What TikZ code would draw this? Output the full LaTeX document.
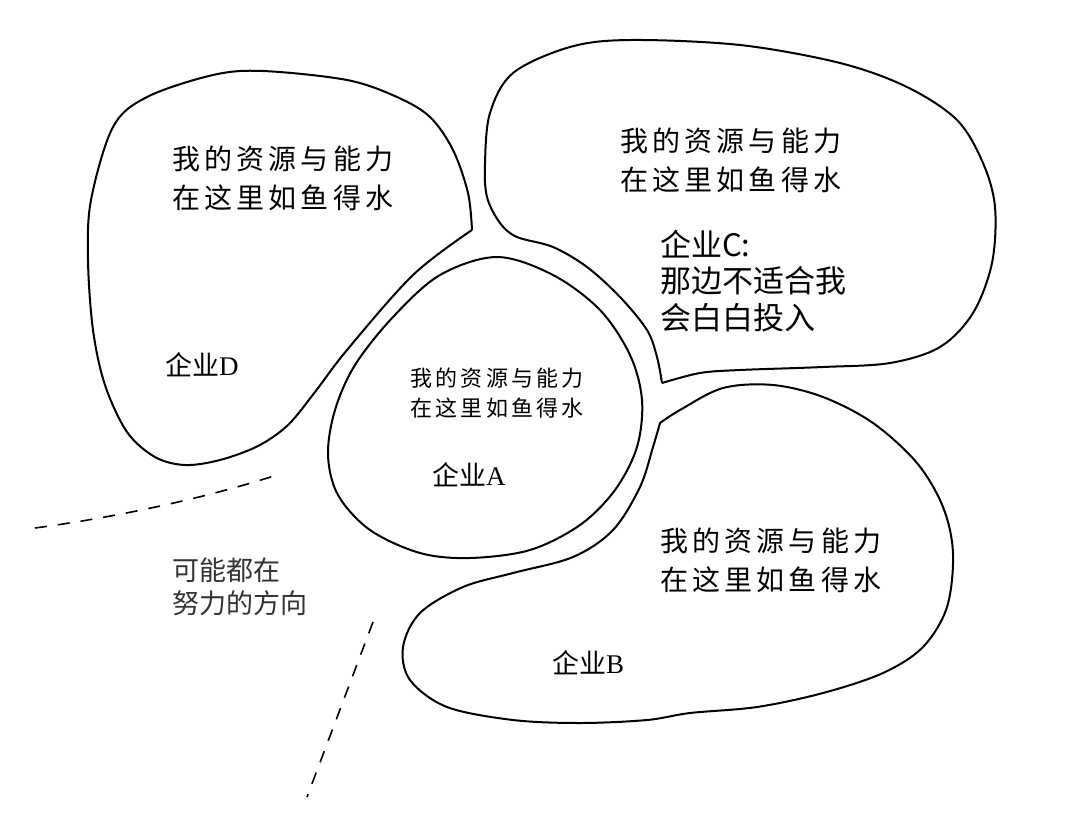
\documentclass[tikz,border=0pt]{standalone}
\usepackage{fontspec}
\newfontfamily\cjk{Noto Sans CJK SC}
\newfontfamily\cjkls[LetterSpace=15]{Noto Sans CJK SC}
\newfontfamily\lat{Liberation Serif}
\begin{document}
\begin{tikzpicture}[x=1pt,y=-1pt,
  blob/.style={draw=black, line width=2pt, line join=round},
  dashline/.style={draw=black, line width=1.6pt, dash pattern=on 12pt off 11pt},
  txt/.style={inner sep=0pt, anchor=west, align=left},
  bigls/.style={font=\cjkls\fontsize{28}{39}\selectfont},
  smallls/.style={font=\cjkls\fontsize{22}{30}\selectfont},
  firm/.style={font=\lat\fontsize{27}{30}\selectfont},
  sanstxt/.style={font=\cjk\fontsize{31}{36.5}\selectfont},
  graytxt/.style={font=\cjk\fontsize{27}{33}\selectfont, text=black!80}]
\useasboundingbox (0,0) rectangle (1080,839);
\fill[white] (0,0) rectangle (1080,839);

% firm D
\draw[blob] plot[smooth, tension=0.55] coordinates {(472,230) (413,275) (347,350) (315,392) (288,425) (258,446) (220,460) (185,465) (155,457) (127,432) (105,385) (93,330) (88,260) (91,200) (113,127) (147,97) (213,75) (263,71) (347,80) (397,97) (430,117) (453,150) (468,193) (472,230)};
% firm C
\draw[blob] plot[smooth, tension=0.55] coordinates {(662,383) (657,357) (647,330) (620,297) (587,267) (553,247) (517,237) (500,223) (487,197) (485,163) (490,113) (513,73) (570,47) (630,40) (740,45) (840,63) (907,87) (957,120) (983,163) (995,207) (992,263) (973,313) (940,347) (890,363) (823,367) (740,370) (700,373) (662,383)};
% firm A
\draw[blob] plot[smooth cycle, tension=0.55] coordinates {(497,257) (553,275) (600,310) (630,355) (642,400) (637,447) (615,490) (580,525) (530,550) (470,558) (420,553) (370,530) (338,495) (328,455) (335,410) (355,365) (393,317) (440,275)};
% firm B
\draw[blob] plot[smooth, tension=0.55] coordinates {(660,423) (680,410) (723,388) (773,385) (823,397) (873,423) (917,463) (943,507) (953,553) (947,607) (923,647) (883,673) (823,693) (757,707) (690,713) (647,720) (580,723) (513,720) (447,707) (410,680) (403,647) (420,613) (463,587) (513,573) (573,557) (613,530) (640,487) (653,447) (660,423)};

% dashed directions
\coordinate (d1a) at (35,528);
\coordinate (d1b) at (280,474);
\coordinate (d2a) at (373,622);
\coordinate (d2b) at (307,797);
\draw[dashline] (d1a) .. controls (110,518) and (200,500) .. (d1b);
\draw[dashline] (d2a) -- (d2b);

% texts
\node[txt, bigls] (tD) at (172,178) {我的资源与能力\\在这里如鱼得水};
\node[txt, firm] (fD) at (165,365) {{\cjk 企业}D};
\node[txt, bigls] (tC) at (620,160) {我的资源与能力\\在这里如鱼得水};
\node[txt, sanstxt] (fC) at (660,281) {企业C:\\那边不适合我\\会白白投入};
\node[txt, smallls] (tA) at (410,393) {我的资源与能力\\在这里如鱼得水};
\node[txt, firm] (fA) at (432,475) {{\cjk 企业}A};
\node[txt, bigls] (tB) at (660,560) {我的资源与能力\\在这里如鱼得水};
\node[txt, firm] (fB) at (552,663) {{\cjk 企业}B};
\node[txt, graytxt] (tE) at (172,587) {可能都在\\努力的方向};
\end{tikzpicture}
\end{document}
